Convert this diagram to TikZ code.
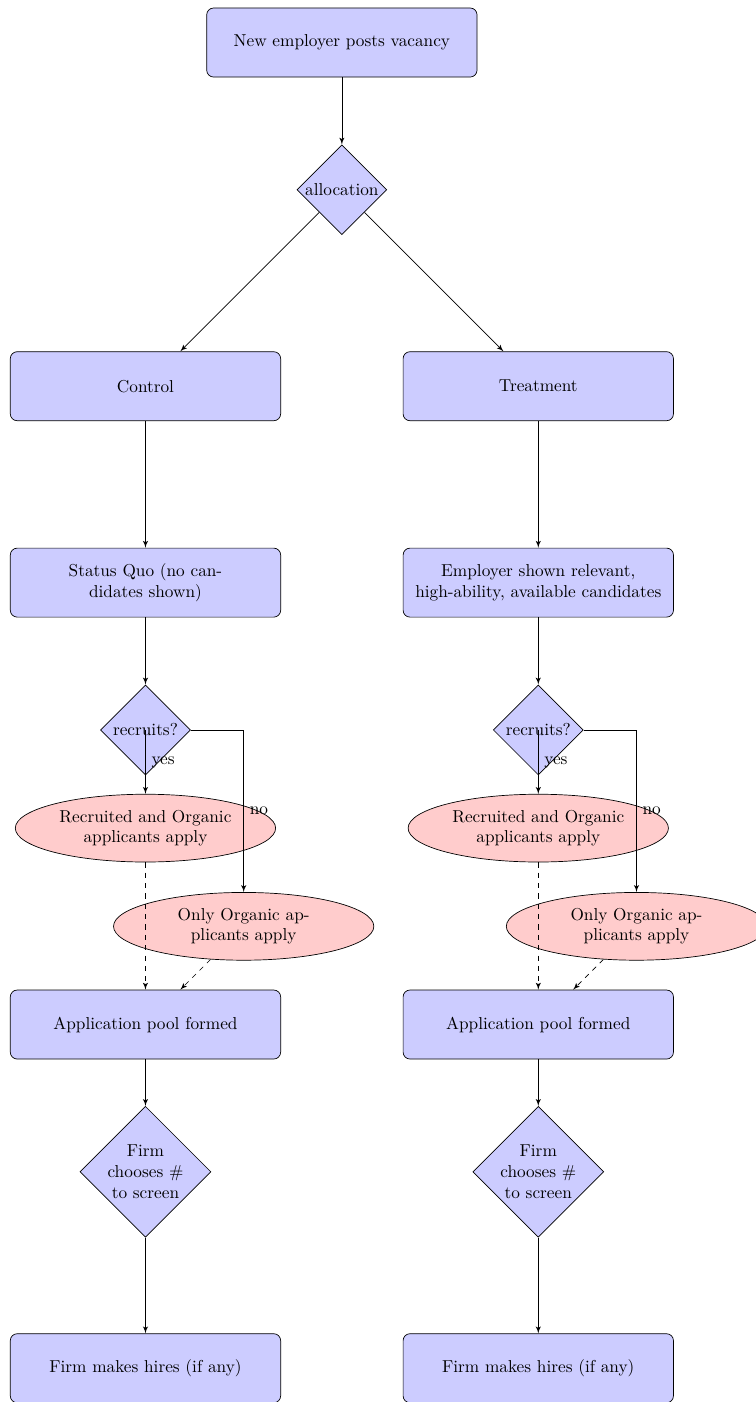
\documentclass[tikz,border=0pt]{standalone}
\usepackage{tikz}
\usetikzlibrary{shapes.geometric,arrows}

\tikzset{
	decision/.style={diamond, draw, fill=blue!20, text width=4.5em, text badly centered, inner sep=0pt},
	block/.style={rectangle, draw, fill=blue!20, text width=15em, text centered, rounded corners, minimum height=4em},
	cloud/.style={draw, ellipse, fill=red!20, text width=10em, text centered, minimum height=2em},
	line/.style={draw, -latex'}
}

\begin{document}
\begin{tikzpicture}
			%%%%% START %%%%%
			
			\useasboundingbox (-6.963, -27.688) rectangle (8.434, 0.866);
			
			\node[block] (post) at (0, 0) {New employer posts vacancy};
			\node[decision] (alloc) at (0, -3) {allocation};
			
			\node[block] (ctrl) at (-4, -7) {Control};
			\node[block] (treat) at (4, -7) {Treatment};
			
			\node[block] (sqc) at (-4, -11) {Status Quo (no candidates shown)};
			\node[decision] (recc) at (-4, -14) {recruits?};
			\node[cloud] (bothc) at (-4, -16) {Recruited and Organic applicants apply};
			\node[cloud] (orgc) at (-2, -18) {Only Organic applicants apply};
			\node[block] (poolc) at (-4, -20) {Application pool formed};
			\node[decision] (screenc) at (-4, -23) {Firm chooses \# to screen};
			\node[block] (hirec) at (-4, -27) {Firm makes hires (if any)};
			
			\node[block] (showt) at (4, -11) {Employer shown relevant, high-ability, available candidates};
			\node[decision] (rect) at (4, -14) {recruits?};
			\node[cloud] (botht) at (4, -16) {Recruited and Organic applicants apply};
			\node[cloud] (orgt) at (6, -18) {Only Organic applicants apply};
			\node[block] (poolt) at (4, -20) {Application pool formed};
			\node[decision] (screent) at (4, -23) {Firm chooses \# to screen};
			\node[block] (hiret) at (4, -27) {Firm makes hires (if any)};
			
			\path[line] (post) -- (alloc);
			\path[line] (alloc) -- (ctrl);
			\path[line] (alloc) -- (treat);
			
			\path[line] (ctrl) -- (sqc);
			\path[line] (sqc) -- (recc);
			\path[line] (recc.center) -- node[right] (yesc) {yes} (bothc);
			\path[line] (recc) -| node[near end, right] (noc) {no} (orgc);
			\path[line, dashed] (bothc) -- (poolc);
			\path[line, dashed] (orgc) -- (poolc);
			\path[line] (poolc) -- (screenc);
			\path[line] (screenc) -- (hirec);
			
			\path[line] (treat) -- (showt);
			\path[line] (showt) -- (rect);
			\path[line] (rect.center) -- node[right] (yest) {yes} (botht);
			\path[line] (rect) -| node[near end, right] (not) {no} (orgt);
			\path[line, dashed] (botht) -- (poolt);
			\path[line, dashed] (orgt) -- (poolt);
			\path[line] (poolt) -- (screent);
			\path[line] (screent) -- (hiret);
			
			%%%%% END %%%%%
\end{tikzpicture}
\end{document}
